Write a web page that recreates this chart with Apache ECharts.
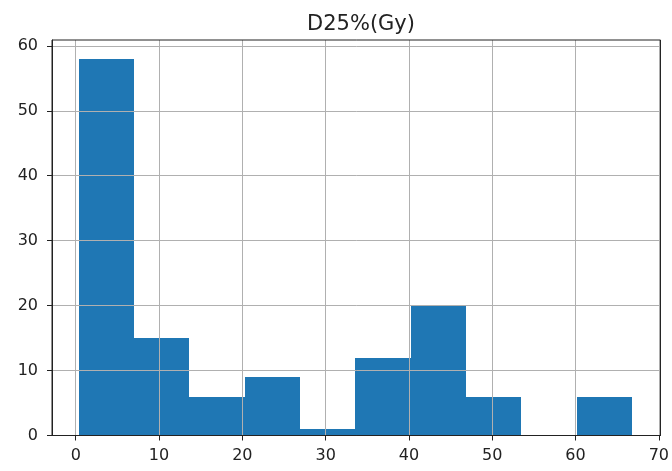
<!DOCTYPE html>
<html><head><meta charset="utf-8">
<script src="https://cdn.jsdelivr.net/npm/echarts@6/dist/echarts.min.js"></script>
<style>html,body{margin:0;padding:0;background:#fff}#c{width:672px;height:471px}</style>
</head><body><div id="c"></div>
<script>
const chartTitle = 'D25%(Gy)';
const binEdges = [0.35, 6.99, 13.64, 20.28, 26.93, 33.57, 40.22, 46.86, 53.51, 60.15, 66.8];
const counts = [58, 15, 6, 9, 1, 12, 20, 6, 0, 6];
const xTicks = [0, 10, 20, 30, 40, 50, 60, 70];
const yTicks = [0, 10, 20, 30, 40, 50, 60];

const barData = counts.map((c, i) => [binEdges[i], binEdges[i + 1], c]);
const font = 'DejaVu Sans';
const chart = echarts.init(document.getElementById('c'), null, {renderer: 'canvas'});
chart.setOption({
  animation: false,
  backgroundColor: '#fff',
  title: {
    text: chartTitle, left: 356, top: 9, textAlign: 'center',
    textStyle: {fontFamily: font, fontSize: 21, fontWeight: 'normal', color: '#222'}
  },
  grid: {left: 52, top: 40, right: 11, bottom: 35.5, show: true, borderColor: '#222', borderWidth: 1, z: 4},
  xAxis: {
    type: 'value', min: -2.85, max: 70.2, z: 3,
    axisLine: {show: true, onZero: false, lineStyle: {color: '#222', width: 1}},
    axisTick: {show: true, length: 5, inside: false, customValues: xTicks, lineStyle: {color: '#222'}},
    axisLabel: {customValues: xTicks, margin: 12, fontFamily: font, fontSize: 16, color: '#222'},
    splitLine: {show: true, lineStyle: {color: '#b0b0b0', width: 1}}
  },
  yAxis: {
    type: 'value', min: 0, max: 60.9, z: 3,
    axisLine: {show: true, onZero: false, lineStyle: {color: '#222', width: 1}},
    axisTick: {show: true, length: 5, inside: false, customValues: yTicks, lineStyle: {color: '#222'}},
    axisLabel: {customValues: yTicks, margin: 14, fontFamily: font, fontSize: 16, color: '#222'},
    splitLine: {show: true, lineStyle: {color: '#b0b0b0', width: 1}}
  },
  series: [{
    type: 'custom', z: 1,
    data: barData,
    encode: {x: [0, 1], y: 2},
    renderItem: function (params, api) {
      const p0 = api.coord([api.value(0), api.value(2)]);
      const p1 = api.coord([api.value(1), 0]);
      const x0 = Math.round(p0[0]), x1 = Math.round(p1[0]);
      const y0 = Math.round(p0[1]), y1 = p1[1];
      return {type: 'rect', shape: {x: x0, y: y0, width: x1 - x0, height: y1 - y0},
        style: {fill: '#1f77b4'}};
    }
  }]
});
</script></body></html>
